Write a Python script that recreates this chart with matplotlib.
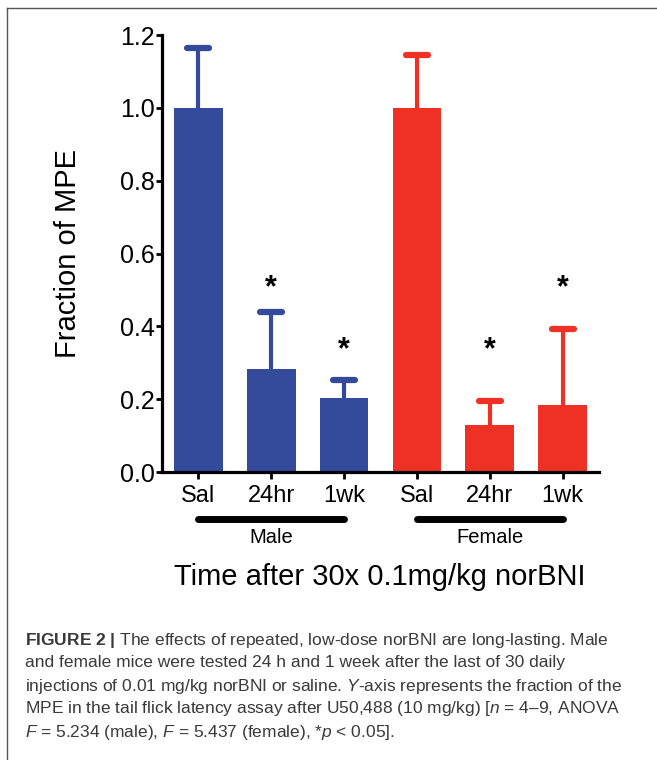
import matplotlib
matplotlib.use("Agg")
import matplotlib.pyplot as plt
import numpy as np

# values (fraction of MPE, mean and upper SEM)
groups = ["Male", "Female"]
tick_labels = ["Sal", "24hr", "1wk", "Sal", "24hr", "1wk"]
male_vals = [1.0, 0.282, 0.202]
male_err = [0.165, 0.156, 0.050]
female_vals = [1.0, 0.130, 0.183]
female_err = [0.146, 0.065, 0.211]
# where the significance stars sit (data units), by bar index
star_bars = [1, 2, 4, 5]
star_y = [0.505, 0.335, 0.335, 0.505]

blue = "#344a9a"
red = "#ee3124"

plt.rcParams["font.family"] = ["Liberation Sans", "DejaVu Sans"]
plt.rcParams["mathtext.fontset"] = "custom"
plt.rcParams["mathtext.rm"] = "Liberation Sans"
plt.rcParams["mathtext.it"] = "Liberation Sans:italic"
plt.rcParams["mathtext.bf"] = "Liberation Sans:bold"

W, H = 657, 760
fig = plt.figure(figsize=(W / 100, H / 100), dpi=100)

# frame around the figure panel
fig.add_artist(plt.Line2D([7 / W, 7 / W], [0, 1 - 8 / H], color="#555555", lw=1))
fig.add_artist(plt.Line2D([7 / W, 1], [1 - 8 / H, 1 - 8 / H], color="#555555", lw=1))

ax = fig.add_axes([162 / W, 1 - 472 / H, (599 - 162) / W, (472 - 35) / H])

x = np.arange(6)
vals = np.array(male_vals + female_vals)
errs = np.array(male_err + female_err)
colors = [blue] * 3 + [red] * 3

ax.bar(x, vals, width=0.667, color=colors, zorder=2)
tops = vals + errs
ax.vlines(x, vals, tops, colors=colors, lw=3, zorder=1)
for xi, t, c in zip(x, tops, colors):
    ax.plot([xi - 0.15, xi + 0.15], [t, t], color=c, lw=4.5, solid_capstyle="round", zorder=1)

for b, sy in zip(star_bars, star_y):
    ax.text(x[b], sy, "*", ha="center", va="center", fontsize=22, fontweight="bold")

ax.set_xlim(-0.5, 5.5)
ax.set_ylim(0, 1.2)
ax.set_yticks([0.0, 0.2, 0.4, 0.6, 0.8, 1.0, 1.2])
ax.set_yticklabels(["0.0", "0.2", "0.4", "0.6", "0.8", "1.0", "1.2"])
ax.set_xticks(x)
ax.set_xticklabels(tick_labels)
ax.tick_params(axis="y", direction="out", length=4, width=2, labelsize=18, pad=1)
ax.tick_params(axis="x", direction="out", length=5, width=2, labelsize=17, pad=4)
for s in ["top", "right"]:
    ax.spines[s].set_visible(False)
for s in ["left", "bottom"]:
    ax.spines[s].set_linewidth(2.3)

ax.set_ylabel("Fraction of MPE", fontsize=21)
ax.yaxis.set_label_coords((82 - 162) / (599 - 162), 0.5)

# group bars under the tick labels
for i, g in enumerate(groups):
    x0, x1 = x[3 * i], x[3 * i + 2]
    ax.plot([x0, x1], [-0.129, -0.129], color="black", lw=5, solid_capstyle="round",
            clip_on=False)
    ax.text((x0 + x1) / 2, -0.179, g, ha="center", va="center", fontsize=14.5)

fig.text(380 / W, 1 - 577 / H, "Time after 30x 0.1mg/kg norBNI", ha="center", va="center",
         fontsize=21)

caption = [
    r"$\mathbf{FIGURE\ 2\ |}$ The effects of repeated, low-dose norBNI are long-lasting. Male",
    "and female mice were tested 24 h and 1 week after the last of 30 daily",
    "injections of 0.01 mg/kg norBNI or saline. $\\it{Y}$-axis represents the fraction of the",
    "MPE in the tail flick latency assay after U50,488 (10 mg/kg) [$\\it{n}$ = 4\u20139, ANOVA",
    "$\\it{F}$ = 5.234 (male), $\\it{F}$ = 5.437 (female), *$\\it{p}$ < 0.05].",
]
for i, line in enumerate(caption):
    fig.text(25 / W, 1 - (640 + 23 * i) / H, line, ha="left", va="center", fontsize=12.5,
             color="#3a3a3a")

fig.savefig("out.png", dpi=100)
